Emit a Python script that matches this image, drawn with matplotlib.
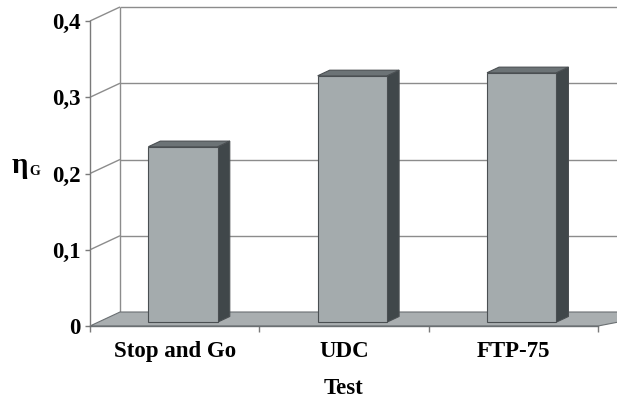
import numpy as np
import matplotlib
matplotlib.use("Agg")
import matplotlib.pyplot as plt
from matplotlib.patches import Polygon

# Data
categories = ["Stop and Go", "UDC", "FTP-75"]
eta_g = [0.23, 0.323, 0.327]
y_ticks = [0.0, 0.1, 0.2, 0.3, 0.4]
y_tick_labels = ["0", "0,1", "0,2", "0,3", "0,4"]

# Style
serif = ["Liberation Serif", "DejaVu Serif"]
front_col = "#a4abad"
top_col = "#6c7376"
side_col = "#40474a"
floor_col = "#a9aeb0"
edge_col = "#4a4f52"
grid_col = "#8c8c8c"
FS = 16.5

DEPTH_PX = np.array([30.0, 14.0])   # oblique depth of the plot box, in pixels
BAR_FRONT = 0.28                    # depth position of the bar front face
BAR_DEPTH = 0.40                    # depth of each bar
BAR_W = 0.41

fig = plt.figure(figsize=(6.17, 4.01), dpi=100)
ax = fig.add_axes([90 / 617, 75 / 401, 508 / 617, 305 / 401])
ax.set_xlim(-0.5, 2.5)
ax.set_ylim(0, 0.4)
ax.patch.set_alpha(0)
fig.canvas.draw()

scale = fig.dpi / 100.0


def proj(x, y, d):
    """Data point (x, y) pushed back to depth fraction d of the box."""
    p = ax.transData.transform((x, y)) + d * DEPTH_PX * scale
    return ax.transData.inverted().transform(p)


def poly(pts, fc, ec=edge_col, lw=0.8, z=2):
    ax.add_patch(Polygon(pts, closed=True, facecolor=fc, edgecolor=ec,
                         linewidth=lw, zorder=z, clip_on=False))


def line(p0, p1, color=grid_col, lw=1.0, z=1):
    ax.plot([p0[0], p1[0]], [p0[1], p1[1]], color=color, lw=lw,
            zorder=z, clip_on=False, solid_capstyle="butt")


x0, x1 = -0.5, 2.5
x_far = 2.75  # back gridlines run off the right edge

# Back wall gridlines and edge
for v in y_ticks[1:]:
    line(proj(x0, v, 1), proj(x_far, v, 1))
line(proj(x0, 0, 1), proj(x0, 0.4, 1))

# Left wall diagonals
for v in y_ticks[1:]:
    line(proj(x0, v, 0), proj(x0, v, 1))

# Floor
poly([proj(x0, 0, 0), proj(x1, 0, 0), proj(x_far, 0, 1), proj(x0, 0, 1)],
     floor_col, ec="#6a6f72", lw=0.8, z=1.5)

# Bars
for i, v in enumerate(eta_g):
    xl, xr = i - BAR_W / 2, i + BAR_W / 2
    d0, d1 = BAR_FRONT, BAR_FRONT + BAR_DEPTH
    # side face
    poly([proj(xr, 0, d0), proj(xr, v, d0), proj(xr, v, d1), proj(xr, 0, d1)],
         side_col, z=3)
    # top face
    poly([proj(xl, v, d0), proj(xr, v, d0), proj(xr, v, d1), proj(xl, v, d1)],
         top_col, z=3)
    # front face
    poly([proj(xl, 0, d0), proj(xr, 0, d0), proj(xr, v, d0), proj(xl, v, d0)],
         front_col, z=4)

# Axes: front-left spine is the value axis, bottom spine the floor's front edge
for s in ["top", "right"]:
    ax.spines[s].set_visible(False)
ax.spines["left"].set_color("#7a7a7a")
ax.spines["left"].set_linewidth(1.0)
ax.spines["bottom"].set_color("#6a6f72")
ax.spines["bottom"].set_linewidth(1.0)
ax.spines["bottom"].set_zorder(5)

ax.set_yticks(y_ticks)
ax.set_yticklabels(y_tick_labels, fontfamily=serif, fontweight="bold",
                   fontsize=FS)
ax.tick_params(axis="y", length=3.6, width=1.0, color="#7a7a7a", pad=3)

ax.set_xticks(range(len(categories)))
ax.set_xticklabels(categories, fontfamily=serif, fontweight="bold",
                   fontsize=FS)
ax.set_xticks(np.arange(-0.5, 2.51, 1.0), minor=True)
ax.tick_params(axis="x", which="major", length=0, pad=11)
ax.tick_params(axis="x", which="minor", length=4, width=1.0,
               color="#7a7a7a")

ax.set_xlabel("Test", fontfamily=serif, fontweight="bold", fontsize=FS)
ax.xaxis.set_label_coords(0.5, (13 - 75) / 305)
ax.xaxis.label.set_va("center")

# Axis title: eta with subscript G
fig.text(12 / 617, 1 - 173 / 401, "η", fontfamily=serif, fontsize=21,
         fontweight="bold", ha="left", va="baseline")
fig.text(29.5 / 617, 1 - 174.5 / 401, "G", fontfamily=serif, fontsize=10,
         fontweight="bold", ha="left", va="baseline")

fig.savefig("out.png", dpi=100)
